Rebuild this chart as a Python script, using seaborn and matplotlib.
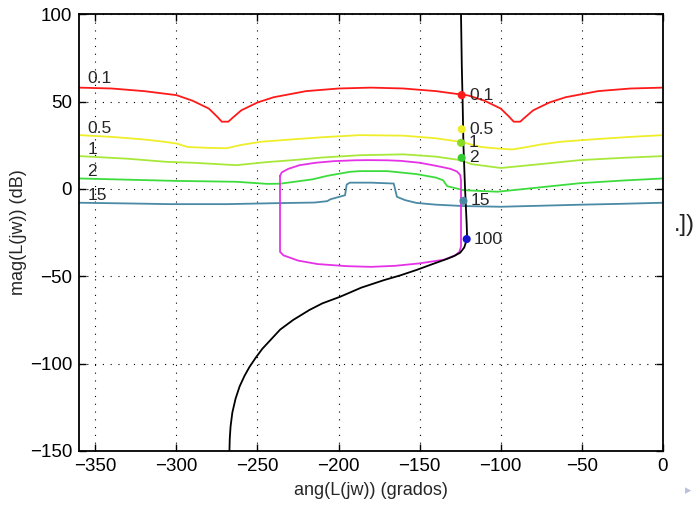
import matplotlib
matplotlib.use("Agg")
import matplotlib.pyplot as plt
import numpy as np
import pandas as pd
import seaborn as sns

# --- curves (angle in degrees, magnitude in dB) ---
red_x = [-360, -340, -320, -300, -290, -280, -275, -272, -268, -265, -260, -250, -240, -220, -200, -180,
         -160, -140, -120, -110, -100, -95, -92, -88, -85, -80, -70, -60, -40, -20, 0]
red_y = [58, 57.5, 56, 53.7, 50.5, 46, 41.5, 38.5, 38.5, 41, 45, 49.5, 52.5, 56, 57.5, 58,
         57.5, 56, 53.5, 50.5, 46, 41.5, 38.5, 38.5, 41, 45, 49.5, 52.5, 56, 57.5, 58]

yel_x = [-360, -340, -321, -310, -300, -293, -280, -269, -260, -248, -228, -210, -187, -160, -140,
         -125, -112, -100, -93, -85, -75, -63, -40, -20, 0]
yel_y = [30.8, 29.8, 28.4, 27.3, 26, 24, 23.5, 23.3, 25.2, 27, 28.4, 29.6, 30.8, 30.5, 29,
         27, 24, 23, 22.6, 23.8, 25.5, 27, 28.6, 29.8, 30.8]

lg_x = [-360, -330, -306, -290, -263, -245, -228, -210, -187, -160, -140, -125, -118, -100, -80, -51, -25, 0]
lg_y = [18.8, 17.3, 15.5, 15, 13.6, 15.3, 16.5, 18, 19.3, 19.8, 18.5, 16.5, 14.2, 12, 13.8, 16.5, 17.8, 18.8]

gr_x = [-360, -330, -300, -263, -244, -236, -224, -216, -207, -193, -187, -170, -152, -140, -135.6,
        -133, -123, -102, -80, -51, -25, 0]
gr_y = [6, 5.3, 4.6, 4.1, 2.9, 3, 4.5, 5.5, 7.5, 9.8, 10.2, 10.2, 8.5, 6.5, 5,
        1.6, -0.7, -1.6, 0.5, 3.3, 4.8, 6]

tl_x = [-360, -330, -304, -269, -236, -215, -207, -205, -196, -195, -193, -180, -166, -164, -159,
        -152, -140, -123, -100, -75, -50, -25, 0]
tl_y = [-7.9, -8.3, -8.7, -8.7, -8.1, -7.8, -7, -5.9, -3.6, 2.5, 3.6, 3.6, 3.1, -4.5, -6.4,
        -8, -9, -9.8, -10.2, -9.6, -9, -8.5, -7.9]

mg_x = [-236.1, -235, -231, -224, -214, -203, -190, -182, -170, -162, -150, -142, -136, -131, -127,
        -125, -124.5, -124.5, -125.5, -128, -135, -150, -165, -180, -195, -213, -225, -234, -236.1, -236.1]
mg_y = [7.5, 9.5, 11.5, 13.6, 15, 15.9, 16.4, 16.5, 16.4, 16.1, 15, 13.6, 12.5, 11.5, 10,
        8, 5, -33, -36, -38, -40.5, -42.6, -44, -44.6, -44.2, -43, -41, -38, -36, 7.5]

bk_x = [-124.5, -124, -123.5, -123, -122, -121, -120.8, -121.3, -122.5, -125, -129, -133, -142, -152,
        -162, -172, -186, -199, -210, -218, -228, -236, -242, -247, -251, -255, -258, -261, -263.5,
        -265.5, -266.6, -267.1, -267.3]
bk_y = [100, 70, 50, 25, 0, -20, -26, -30, -33.5, -36.5, -38.5, -40, -43, -46.4,
        -49.5, -52.2, -56.5, -61.7, -65.5, -69.3, -75, -80.5, -86.5, -91.5, -96.5, -102, -107, -113, -120,
        -128, -136, -143, -150]

# frequency markers on the loop
mk_x = [-124.1, -124.1, -124.5, -124.1, -123, -121]
mk_y = [53.7, 34.2, 26.4, 17.8, -6.8, -28.7]
mk_lab = ["0.1", "0.5", "1", "2", "15", "100"]

# labels at the left end of the bounds
left_lab = ["0.1", "0.5", "1", "2", "15"]
left_y = [63.4, 34.8, 22.8, 10.2, -3.5]

c_red, c_yel, c_lg, c_gr, c_tl = "#ff1a1a", "#eeee2a", "#a8e83a", "#3ddc3d", "#4a8aa5"
c_mg, c_bk, c_bl = "#e632e6", "#000000", "#1515d0"
mk_col = [c_red, c_yel, "#88dd22", "#33cc33", c_tl, c_bl]

sns.set_style("ticks")
plt.rcParams["font.family"] = ["Liberation Sans", "DejaVu Sans"]
plt.rcParams["axes.unicode_minus"] = True

fig = plt.figure(figsize=(7, 5.09), dpi=100)
ax = fig.add_axes([0.113, 0.114, 0.834, 0.858])

for xs, ys, c in [(red_x, red_y, c_red), (yel_x, yel_y, c_yel), (lg_x, lg_y, c_lg),
                  (gr_x, gr_y, c_gr), (tl_x, tl_y, c_tl), (mg_x, mg_y, c_mg), (bk_x, bk_y, c_bk)]:
    sns.lineplot(x=xs, y=ys, sort=False, estimator=None, color=c, lw=1.3, ax=ax)

mk = pd.DataFrame({"x": mk_x, "y": mk_y, "lab": mk_lab})
sns.scatterplot(data=mk, x="x", y="y", hue="lab", palette=mk_col, s=34, edgecolor="none",
                legend=False, ax=ax, zorder=5)
for i, lab in enumerate(mk_lab):
    ax.text(mk_x[i] + 4.5, mk_y[i], lab, fontsize=12.5, va="center", ha="left")
for lab, y in zip(left_lab, left_y):
    ax.text(-355, y, lab, fontsize=12.5, va="center", ha="left")

ax.set_xlim(-360, 0)
ax.set_ylim(-150, 100)
ax.set_xticks(np.arange(-350, 1, 50))
ax.set_yticks(np.arange(-150, 101, 50))
ax.grid(True, color="black", linestyle=(0, (1, 6)), linewidth=0.8)
ax.tick_params(direction="in", top=True, right=True, length=5, width=1, labelsize=13.5,
               colors="black", pad=5)
for s in ax.spines.values():
    s.set_linewidth(1.3)
    s.set_color("black")
ax.set_xlabel("ang(L(jw)) (grados)", fontsize=13, labelpad=5)
ax.set_ylabel("mag(L(jw)) (dB)", fontsize=13, labelpad=2)

fig.text(0.962, 0.558, ".])", fontsize=17, va="center", ha="left", color="#222222")
fig.text(0.983, 0.035, "\u25B8", fontsize=9, va="center", ha="center", color="#b8c0dc")

fig.savefig("out.png", dpi=100)
